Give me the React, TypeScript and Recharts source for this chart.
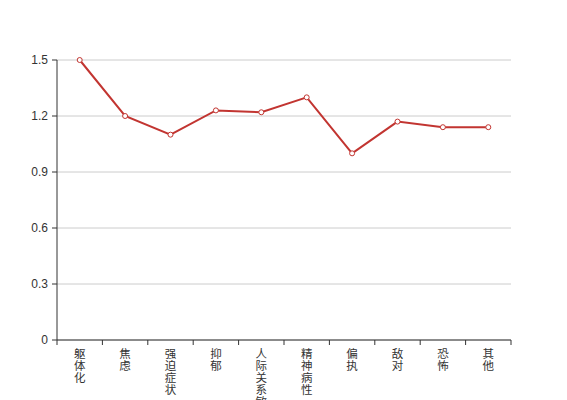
import React from 'react';
import { LineChart, Line, XAxis, YAxis, CartesianGrid } from 'recharts';

const categories = ['躯体化', '焦虑', '强迫症状', '抑郁', '人际关系敏感', '精神病性', '偏执', '敌对', '恐怖', '其他'];
const scores = [1.5, 1.2, 1.1, 1.23, 1.22, 1.3, 1.0, 1.17, 1.14, 1.14];
const yTicks = [0, 0.3, 0.6, 0.9, 1.2, 1.5];

const data = categories.map((name, i) => ({ name, value: scores[i] }));

const axisColor = '#333';
const lineColor = '#c23531';
const fontFamily = '"Liberation Sans", Arial, "Noto Sans CJK SC", sans-serif';

// vertical category label, ticks drawn on band edges like echarts
const VerticalTick = (props: any) => {
    const { x, y, payload, index, visibleTicksCount } = props;
    const half = payload.offset || 0;
    const chars = String(payload.value).split('');
    const isLast = index === (visibleTicksCount ?? categories.length) - 1;
    return (
        <g>
            <line x1={x - half} y1={y} x2={x - half} y2={y + 5} stroke={axisColor} />
            {isLast && <line x1={x + half} y1={y} x2={x + half} y2={y + 5} stroke={axisColor} />}
            {chars.map((c, i) => (
                <text key={i} x={x} y={y + 18 + i * 12} textAnchor="middle" fill={axisColor} fontSize={11.5} fontFamily={fontFamily}>
                    {c}
                </text>
            ))}
        </g>
    );
};

export default function App() {
    return (
        <div style={{ position: 'absolute', left: 0, top: 0 }}>
            <LineChart
                width={567}
                height={400}
                data={data}
                margin={{ top: 60, right: 56, left: 0, bottom: 0 }}
            >
                <CartesianGrid stroke="#ccc" vertical={false} />
                <XAxis
                    dataKey="name"
                    scale="band"
                    interval={0}
                    height={60}
                    tickLine={false}
                    tickSize={0}
                    tickMargin={0}
                    axisLine={{ stroke: axisColor }}
                    tick={<VerticalTick />}
                />
                <YAxis
                    width={57}
                    domain={[0, 1.5]}
                    ticks={yTicks}
                    interval={0}
                    tickSize={5}
                    tickMargin={4}
                    axisLine={{ stroke: axisColor }}
                    tickLine={{ stroke: axisColor }}
                    tick={{ fill: axisColor, fontSize: 12, fontFamily }}
                />
                <Line
                    type="linear"
                    dataKey="value"
                    stroke={lineColor}
                    strokeWidth={2}
                    dot={{ r: 2.5, fill: '#fff', stroke: lineColor, strokeWidth: 1 }}
                    isAnimationActive={false}
                />
            </LineChart>
        </div>
    );
}
